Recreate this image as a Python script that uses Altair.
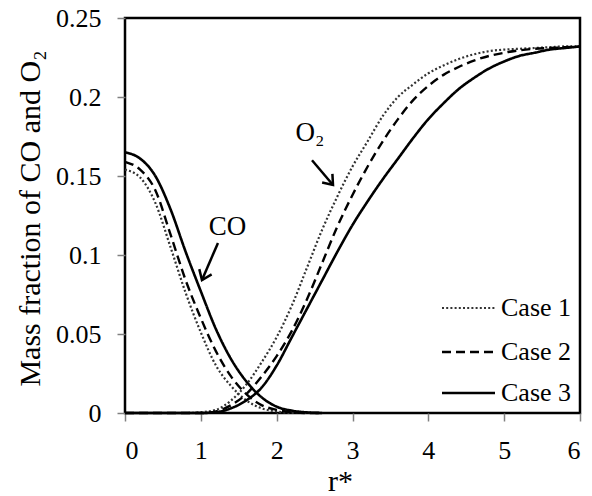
import altair as alt
import pandas as pd

FONT = "Liberation Serif"

# Radial positions and mass fractions of CO
r_co = [0, 0.2, 0.4, 0.6, 0.8, 1.0, 1.2, 1.4, 1.6, 1.8, 2.0, 2.2, 2.4, 2.6]
co_case1 = [0.154, 0.149, 0.133, 0.105, 0.076, 0.051, 0.030, 0.017, 0.008, 0.003, 0.001, 0.0, 0.0, 0.0]
co_case2 = [0.159, 0.154, 0.141, 0.113, 0.084, 0.060, 0.039, 0.023, 0.012, 0.005, 0.002, 0.0005, 0.0, 0.0]
co_case3 = [0.165, 0.161, 0.150, 0.129, 0.102, 0.077, 0.053, 0.034, 0.020, 0.010, 0.004, 0.0015, 0.0004, 0.0]

# Radial positions and mass fractions of O2
r_o2 = [0, 0.8, 1.0, 1.2, 1.4, 1.6, 1.8, 2.0, 2.2, 2.4, 2.6, 2.8, 3.0, 3.2,
        3.4, 3.6, 3.8, 4.0, 4.2, 4.4, 4.6, 4.8, 5.0, 5.2, 5.4, 5.6, 5.8, 6.0]
o2_case1 = [0, 0, 0.0005, 0.002, 0.008, 0.018, 0.032, 0.048, 0.068, 0.092, 0.116, 0.137, 0.156, 0.172,
            0.188, 0.200, 0.208, 0.215, 0.220, 0.224, 0.227, 0.229, 0.230, 0.2305, 0.231, 0.2315, 0.232, 0.232]
o2_case2 = [0, 0, 0, 0.001, 0.005, 0.012, 0.023, 0.036, 0.052, 0.072, 0.095, 0.118, 0.138, 0.156,
            0.172, 0.186, 0.198, 0.207, 0.214, 0.219, 0.223, 0.226, 0.228, 0.2295, 0.2305, 0.231, 0.2315, 0.232]
o2_case3 = [0, 0, 0, 0.0005, 0.003, 0.008, 0.016, 0.030, 0.048, 0.066, 0.084, 0.102, 0.119, 0.134,
            0.148, 0.161, 0.174, 0.186, 0.196, 0.205, 0.212, 0.218, 0.2225, 0.226, 0.228, 0.230, 0.231, 0.232]

cases = ["Case 1", "Case 2", "Case 3"]
dashes = [[2, 2.2], [9, 5], [1, 0]]
widths = [2.2, 2.6, 2.6]
colors = ["#333333", "black", "black"]

x_ticks = [0, 1, 2, 3, 4, 5, 6]
y_ticks = [0, 0.05, 0.1, 0.15, 0.2, 0.25]

rows = []
for case, ys in zip(cases, [co_case1, co_case2, co_case3]):
    rows += [{"r": r, "value": v, "species": "CO", "case": case} for r, v in zip(r_co, ys)]
for case, ys in zip(cases, [o2_case1, o2_case2, o2_case3]):
    rows += [{"r": r, "value": v, "species": "O2", "case": case} for r, v in zip(r_o2, ys)]
df = pd.DataFrame(rows)
df["series"] = df["species"] + " " + df["case"]

x_enc = alt.X(
    "r:Q",
    scale=alt.Scale(domain=[0, 6], nice=False),
    axis=alt.Axis(values=x_ticks, format="d", title="r*", titleX=215, titleY=77,
                  titleBaseline="alphabetic", labelPadding=16),
)
y_enc = alt.Y(
    "value:Q",
    scale=alt.Scale(domain=[0, 0.25], nice=False),
    axis=alt.Axis(values=y_ticks, format="~g", title="Mass fraction of CO and O₂",
                  titleX=-95, titleY=200, titleAngle=-90, titleAlign="center",
                  titleBaseline="middle", labelPadding=16),
)

lines = alt.Chart(df).mark_line(interpolate="monotone").encode(
    x=x_enc,
    y=y_enc,
    detail="series:N",
    strokeDash=alt.StrokeDash("case:N", scale=alt.Scale(domain=cases, range=dashes), legend=None),
    strokeWidth=alt.StrokeWidth("case:N", scale=alt.Scale(domain=cases, range=widths), legend=None),
    color=alt.Color("case:N", scale=alt.Scale(domain=cases, range=colors), legend=None),
)

# Species labels with pointer arrows
labels = pd.DataFrame({
    "text": ["CO", "O₂"],
    "r": [1.35, 2.44],
    "value": [0.118, 0.177],
})
arrows = pd.DataFrame({
    "r": [1.226, 2.466],
    "value": [0.1076, 0.160],
    "r2": [1.015, 2.743],
    "value2": [0.0842, 0.1443],
    "angle": [113, 50],
})

label_text = alt.Chart(labels).mark_text(
    font=FONT, fontSize=27, color="black", align="center", baseline="middle"
).encode(x="r:Q", y="value:Q", text="text:N")

arrow_shaft = alt.Chart(arrows).mark_rule(color="black", strokeWidth=2.5).encode(
    x="r:Q", y="value:Q", x2="r2:Q", y2="value2:Q"
)
arrow_head = alt.Chart(arrows).mark_point(
    shape="M-1,-0.75L0,0L-1,0.75", filled=False, color="black", strokeWidth=2.5,
    size=320, opacity=1,
).encode(
    x=alt.X("r2:Q"), y=alt.Y("value2:Q"), angle=alt.Angle("angle:Q", scale=None)
)

# Legend drawn inside the plot, lower right (one datum per entry)
legend_layers = []
legend_rows = [290, 334, 375]
for case, dash, w, c, ly in zip(cases, dashes, widths, colors, legend_rows):
    entry = pd.DataFrame({"case": [case]})
    legend_layers.append(
        alt.Chart(entry).mark_rule(strokeDash=dash, strokeWidth=w, color=c).encode(
            x=alt.value(317), x2=alt.value(370), y=alt.value(ly)
        )
    )
    legend_layers.append(
        alt.Chart(entry).mark_text(font=FONT, fontSize=26, align="left", baseline="middle",
                                   color="black").encode(
            x=alt.value(376), y=alt.value(ly), text="case:N"
        )
    )

chart = alt.layer(lines, arrow_shaft, arrow_head, label_text, *legend_layers).properties(
    width=455,
    height=395,
    autosize=alt.AutoSizeParams(type="none"),
    padding={"left": 125, "top": 18, "right": 12, "bottom": 83},
    background="white",
).configure_view(
    stroke="black", strokeWidth=2.5
).configure_axis(
    domain=False,
    grid=False,
    ticks=True,
    tickColor="#808080",
    tickWidth=1.5,
    tickSize=8,
    labelFont=FONT,
    labelFontSize=26,
    labelColor="black",
    titleFont=FONT,
    titleFontSize=30,
    titleFontWeight="normal",
    titleColor="black",
)

chart.save("out.html", embed_options={"renderer": "svg", "actions": False})
